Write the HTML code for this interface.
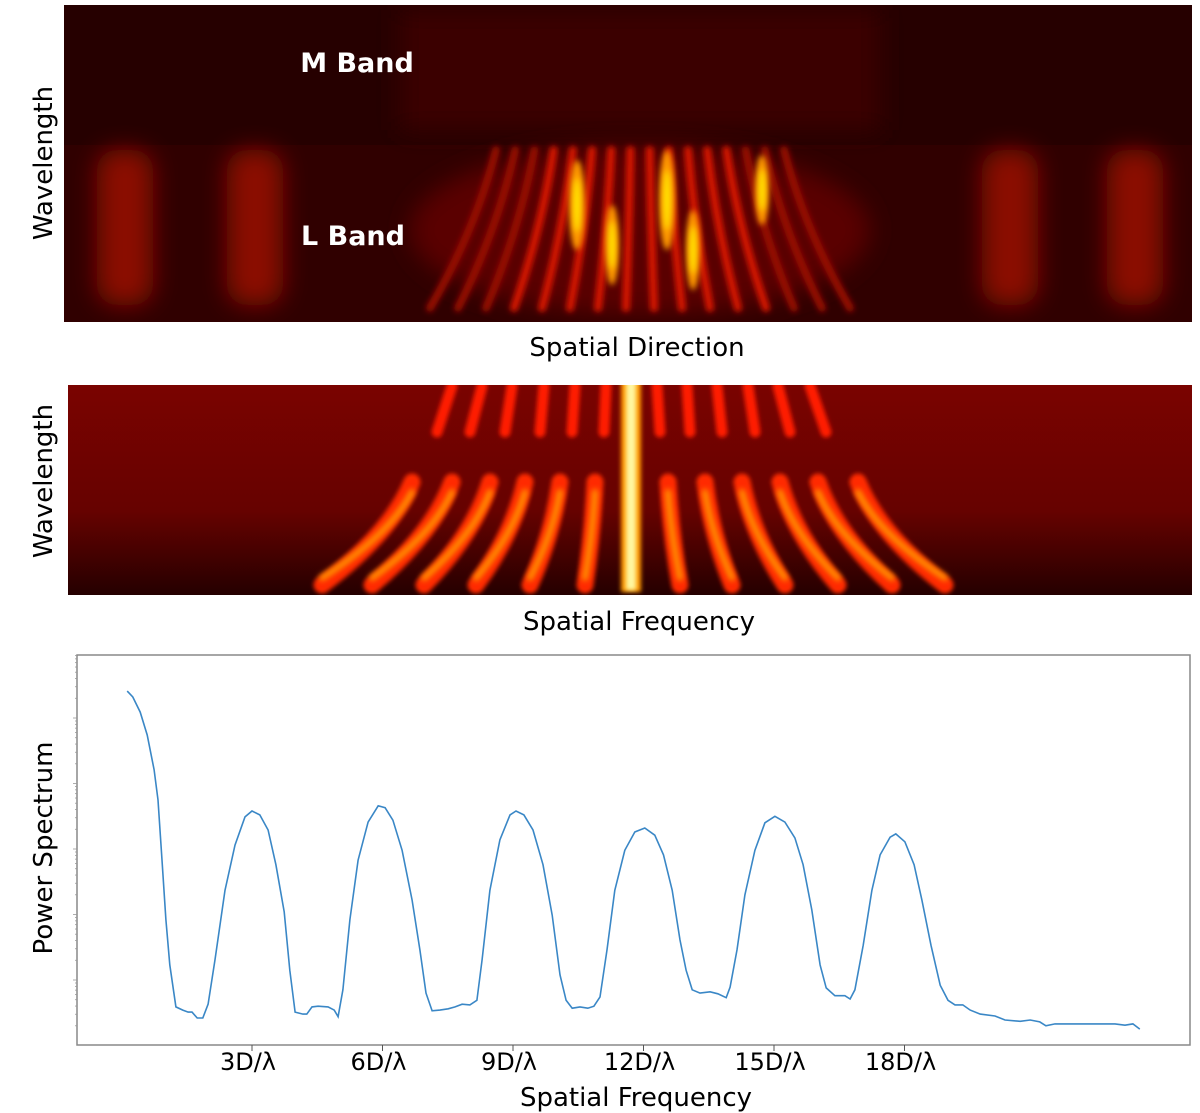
<!DOCTYPE html>
<html><head><meta charset="utf-8"><style>
body{margin:0;background:#fff;}
svg{display:block;font-family:"DejaVu Sans","Liberation Sans",sans-serif;}
</style></head><body>
<svg id="root" width="1200" height="1113" viewBox="0 0 1200 1113">
<defs>
<filter id="b6" filterUnits="userSpaceOnUse" x="0" y="0" width="1200" height="1113"><feGaussianBlur stdDeviation="6"/></filter>
<filter id="b3" filterUnits="userSpaceOnUse" x="0" y="0" width="1200" height="1113"><feGaussianBlur stdDeviation="3"/></filter>
<filter id="b2" filterUnits="userSpaceOnUse" x="0" y="0" width="1200" height="1113"><feGaussianBlur stdDeviation="2"/></filter>
<filter id="b12" filterUnits="userSpaceOnUse" x="0" y="0" width="1200" height="1113"><feGaussianBlur stdDeviation="12"/></filter>
<linearGradient id="midbg" x1="0" y1="0" x2="0" y2="1">
<stop offset="0" stop-color="#7a0300"/><stop offset="0.6" stop-color="#660200"/><stop offset="1" stop-color="#250000"/></linearGradient>
<clipPath id="c1"><rect x="64" y="5" width="1128" height="317"/></clipPath>
<clipPath id="c2"><rect x="68" y="385" width="1124" height="210"/></clipPath>
</defs>

<g clip-path="url(#c1)">
<rect x="64" y="5" width="1128" height="317" fill="#300000"/>
<rect x="64" y="5" width="1128" height="140" fill="#260000"/>
<g id="topfx"></g>
</g>
<text x="357" y="72" font-size="27" font-weight="bold" fill="#fff" text-anchor="middle">M Band</text>
<text x="353" y="245" font-size="27" font-weight="bold" fill="#fff" text-anchor="middle">L Band</text>
<text transform="translate(52,163) rotate(-90)" font-size="26" text-anchor="middle" fill="#000">Wavelength</text>
<text x="637" y="356" font-size="26" text-anchor="middle" fill="#000">Spatial Direction</text>

<g clip-path="url(#c2)">
<rect x="68" y="385" width="1124" height="210" fill="url(#midbg)"/>
<g id="midfx"></g>
</g>
<text transform="translate(52,481) rotate(-90)" font-size="26" text-anchor="middle" fill="#000">Wavelength</text>
<text x="639" y="630" font-size="26" text-anchor="middle" fill="#000">Spatial Frequency</text>

<g id="plot"></g>
<text transform="translate(52,848) rotate(-90)" font-size="26" text-anchor="middle" fill="#000">Power Spectrum</text>
<text x="636" y="1106" font-size="26" text-anchor="middle" fill="#000">Spatial Frequency</text>
</svg>
<script>
// Power spectrum data: spatial frequency (D/lambda) and log10 power
const freq = [0.13,0.26,0.43,0.59,0.75,0.84,0.93,1.02,1.11,1.25,1.41,1.53,1.62,1.74,1.87,1.99,2.15,2.38,2.61,2.84,3.00,3.18,3.37,3.55,3.74,3.87,3.99,4.17,4.26,4.38,4.52,4.75,4.89,4.98,5.09,5.25,5.44,5.67,5.90,6.06,6.24,6.45,6.68,6.86,7.00,7.14,7.32,7.51,7.67,7.83,8.01,8.17,8.29,8.47,8.70,8.93,9.07,9.25,9.46,9.69,9.90,10.08,10.22,10.36,10.54,10.72,10.86,11.00,11.16,11.34,11.57,11.80,12.03,12.26,12.46,12.66,12.84,12.98,13.12,13.30,13.53,13.71,13.90,13.99,14.15,14.33,14.56,14.79,15.02,15.25,15.48,15.67,15.87,16.06,16.20,16.40,16.63,16.75,16.86,17.05,17.25,17.44,17.67,17.80,18.01,18.22,18.40,18.61,18.82,19.00,19.16,19.34,19.51,19.74,20.08,20.31,20.66,20.89,21.11,21.25,21.46,21.80,22.15,22.49,22.84,23.07,23.25,23.41];
const logPower = [4.41,4.32,4.09,3.74,3.21,2.75,1.83,0.92,0.23,-0.41,-0.46,-0.49,-0.49,-0.58,-0.58,-0.37,0.31,1.37,2.06,2.49,2.58,2.52,2.29,1.76,1.04,0.15,-0.49,-0.52,-0.52,-0.41,-0.40,-0.41,-0.46,-0.56,-0.15,0.92,1.83,2.41,2.66,2.63,2.44,1.98,1.22,0.46,-0.20,-0.47,-0.46,-0.44,-0.41,-0.37,-0.38,-0.31,0.31,1.37,2.14,2.52,2.58,2.52,2.29,1.76,0.99,0.08,-0.31,-0.43,-0.41,-0.43,-0.40,-0.26,0.46,1.37,1.98,2.26,2.32,2.21,1.91,1.37,0.61,0.15,-0.15,-0.20,-0.18,-0.21,-0.27,-0.11,0.46,1.30,1.98,2.40,2.50,2.41,2.17,1.76,1.07,0.23,-0.12,-0.24,-0.24,-0.29,-0.15,0.53,1.37,1.91,2.18,2.23,2.11,1.76,1.22,0.53,-0.08,-0.31,-0.38,-0.38,-0.46,-0.52,-0.55,-0.61,-0.63,-0.61,-0.64,-0.70,-0.67,-0.67,-0.67,-0.67,-0.67,-0.69,-0.67,-0.75];
const xTickValues = [3,6,9,12,15,18];
const xTickLabels = ["3D/\u03bb","6D/\u03bb","9D/\u03bb","12D/\u03bb","15D/\u03bb","18D/\u03bb"];
const yDecades = [-1,0,1,2,3,4];

const NS="http://www.w3.org/2000/svg";
const PL=77,PR=1190,PT=655,PB=1045;
function xs(v){return 252+(v-3)*43.5;}
function ys(l){return 980-l*65.5;}
function mk(tag,attrs,parent){const e=document.createElementNS(NS,tag);for(const k in attrs)e.setAttribute(k,attrs[k]);parent.appendChild(e);return e;}

const plot=document.getElementById('plot');
const frame=mk('rect',{x:PL,y:PT,width:PR-PL,height:PB-PT,fill:'none',stroke:'#888','stroke-width':1.5},plot);


yDecades.forEach(d=>{
  for(let m=1;m<10;m++){
    const y=ys(d+Math.log10(m));
    if(y<PT||y>PB)continue;
    const t=mk('line',{x1:PL-(m==1?4:2),x2:PL,y1:y,y2:y,stroke:'#999','stroke-width':0.8},plot);
    
    
  }
});
xTickValues.forEach((v,i)=>{
  const x=xs(v);
  const t=mk('line',{x1:x,x2:x,y1:PB,y2:PB+6,stroke:'#555','stroke-width':1},plot);
  
  
  const lb=mk('text',{x:x-4,y:1070,'font-size':24,'text-anchor':'middle',fill:'#000'},plot);
  lb.textContent=xTickLabels[i];
  
  
});
const line=mk('path',{d:freq.map((f,i)=>(i?'L':'M')+xs(f).toFixed(1)+','+ys(logPower[i]).toFixed(1)).join(''),fill:'none',stroke:'#3a87c6','stroke-width':1.6},plot);



// Top image decorations
const tf=document.getElementById('topfx');
[125,255,1010,1135].forEach(cx=>{
  const r=mk('rect',{x:cx-28,y:150,width:56,height:155,rx:20,fill:'#8a0a00',filter:'url(#b12)'},tf);
  
  
});
const noise=mk('rect',{x:400,y:10,width:480,height:120,fill:'#3a0200',filter:'url(#b12)'},tf);


const glow=mk('ellipse',{cx:640,cy:230,rx:230,ry:85,fill:'#5a0200',filter:'url(#b12)'},tf);


for(let i=0;i<16;i++){
  const xb=430+i*28, off=(i-7.5)*5.5;
  const xt=xb-off*1.6;
  const c=Math.abs(i-7.5)<5?'#d81400':'#9a0800';
  const p=mk('path',{d:`M${xt},150 Q${(xt+xb)/2-off*0.3},230 ${xb},308`,stroke:c,'stroke-width':8,fill:'none',filter:'url(#b3)','stroke-linecap':'round'},tf);
  
  
}
[[577,205,8,45],[612,245,7,40],[667,200,8,50],[693,250,7,40],[762,190,7,35]].forEach(s=>{
  const e=mk('ellipse',{cx:s[0],cy:s[1],rx:s[2],ry:s[3],fill:'#ff9a00',filter:'url(#b3)'},tf);
  
  
  const e2=mk('ellipse',{cx:s[0],cy:s[1],rx:s[2]*0.45,ry:s[3]*0.6,fill:'#ffe600',filter:'url(#b3)'},tf);
  
  
});

// Middle image decorations
const mf=document.getElementById('midfx');
const lowBot=[322,372,424,476,530,585,680,732,785,838,892,945];
const lowTop=[412,452,490,525,560,595,668,705,742,780,818,858];
const upBot=[437,470,505,540,572,604,660,690,722,755,790,826];
const upTop=[452,482,512,544,575,606,657,687,717,748,778,810];
lowBot.forEach((xb,i)=>{
  const xt=lowTop[i];
  const mid=(xb+xt)/2+(xt<632?1:-1)*Math.abs(xt-xb)*0.25;
  const o=mk('path',{d:`M${xt},482 Q${mid},535 ${xb},585`,stroke:'#ff2a00','stroke-width':17,fill:'none','stroke-linecap':'round',filter:'url(#b2)'},mf);
  
  
  const inn=mk('path',{d:`M${xt},492 Q${mid},535 ${xb},578`,stroke:'#ff9500','stroke-width':6,fill:'none','stroke-linecap':'round',filter:'url(#b3)'},mf);
  
  
});
upBot.forEach((xb,i)=>{
  const o=mk('path',{d:`M${upTop[i]},386 L${xb},432`,stroke:'#ff1a00','stroke-width':11,fill:'none','stroke-linecap':'round',filter:'url(#b2)'},mf);
  
  
});
const cl=mk('rect',{x:621,y:380,width:20,height:212,fill:'#ff9a00',filter:'url(#b2)'},mf);


const cc=mk('rect',{x:626,y:380,width:10,height:210,fill:'#fff7a0',filter:'url(#b2)'},mf);


</script>
</body></html>
